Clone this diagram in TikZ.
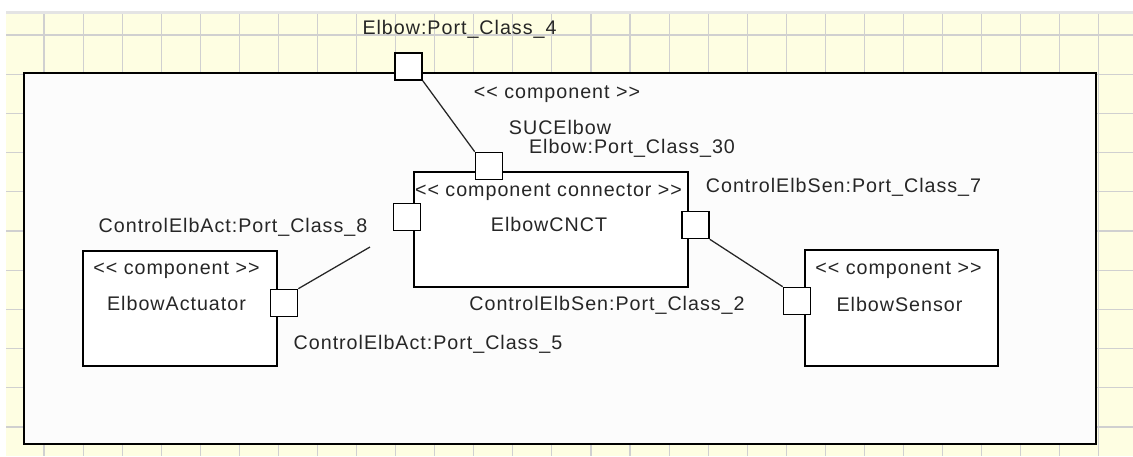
\documentclass[tikz,border=0pt]{standalone}
\usepackage{fontspec}
\setmainfont{Liberation Sans}[LetterSpace=5]
\definecolor{papel}{HTML}{FEFEE2}
\definecolor{rejilla}{HTML}{D0D0D0}
\definecolor{borde}{HTML}{E4E4E4}
% estereotipos UML sin la ligadura de comillas
\newcommand\estereo[1]{<\kern.05em< #1 >\kern.05em>}
\tikzset{
    caja/.style={draw,fill=white,line width=1pt,inner sep=0pt},
    puerto/.style={caja,minimum size=6.8mm},
    etiqueta/.style={text=black!85,inner sep=0pt},
    enlace/.style={line width=.9pt,black!85}
}
\begin{document}
\begin{tikzpicture}[x=0.025cm,y=-0.025cm,every node/.style={font=\fontsize{14}{16}\selectfont}]
    \useasboundingbox (0,0) rectangle (1133,456);
    % Hoja cuadriculada de fondo.
    \fill[papel] (6,11) rectangle (1133,456);
    \fill[borde] (6,11) rectangle (1133,14);
    \foreach \i in {0,...,27} {
        \draw[rejilla,line width=.8pt] ({44+39.07*\i},14) -- ({44+39.07*\i},456);
    }
    \foreach \j in {0,...,10} {
        \draw[rejilla,line width=.8pt] (6,{35+39.2*\j}) -- (1133,{35+39.2*\j});
    }
    % Componente exterior y sus piezas.
    \node[caja,fill=white!99!black,minimum width=26.8cm,minimum height=9.275cm] (suc) at (560,258.5) {};
    \node[caja,minimum width=6.85cm,minimum height=2.875cm] (cnct) at (551,229.5) {};
    \node[caja,minimum width=4.85cm,minimum height=2.875cm] (act) at (180,308.5) {};
    \node[caja,minimum width=4.825cm,minimum height=2.9cm] (sen) at (901.5,308) {};
    % Puertos.
    \node[puerto] (p4) at (408.5,66.5) {};
    \node[puerto] (p30) at (489,166) {};
    \node[puerto] (p8) at (407,217) {};
    \node[puerto] (p7) at (695.5,225) {};
    \node[puerto] (p2) at (797,301) {};
    \node[puerto] (p5) at (284,303) {};
    \coordinate (suelto) at (370,247);
    % Conexiones entre puertos.
    \draw[enlace] (p4.south east) -- (p30.north west);
    \draw[enlace] (p7.south east) -- (p2.north west);
    \draw[enlace] (p5.north east) -- (suelto);
    % Textos.
    \node[etiqueta] (t4) at (459.5,29) {Elbow:Port\_Class\_4};
    \node[etiqueta] (sucst) at (557,94) {\estereo{component}};
    \node[etiqueta] (sucnom) at (560,127) {SUCElbow};
    \node[etiqueta] (t30) at (632,148) {Elbow:Port\_Class\_30};
    \node[etiqueta] (cnctst) at (548.5,192) {\estereo{component connector}};
    \node[etiqueta] (cnctnom) at (549,224) {ElbowCNCT};
    \node[etiqueta] (t2) at (607,305) {ControlElbSen:Port\_Class\_2};
    \node[etiqueta] (t7) at (843.5,187) {ControlElbSen:Port\_Class\_7};
    \node[etiqueta] (t8) at (233,227) {ControlElbAct:Port\_Class\_8};
    \node[etiqueta] (t5) at (428,344) {ControlElbAct:Port\_Class\_5};
    \node[etiqueta] (actst) at (176.5,270) {\estereo{component}};
    \node[etiqueta] (actnom) at (176.5,303) {ElbowActuator};
    \node[etiqueta] (senst) at (898.5,270) {\estereo{component}};
    \node[etiqueta] (sennom) at (899.5,304) {ElbowSensor};
\end{tikzpicture}
\end{document}
